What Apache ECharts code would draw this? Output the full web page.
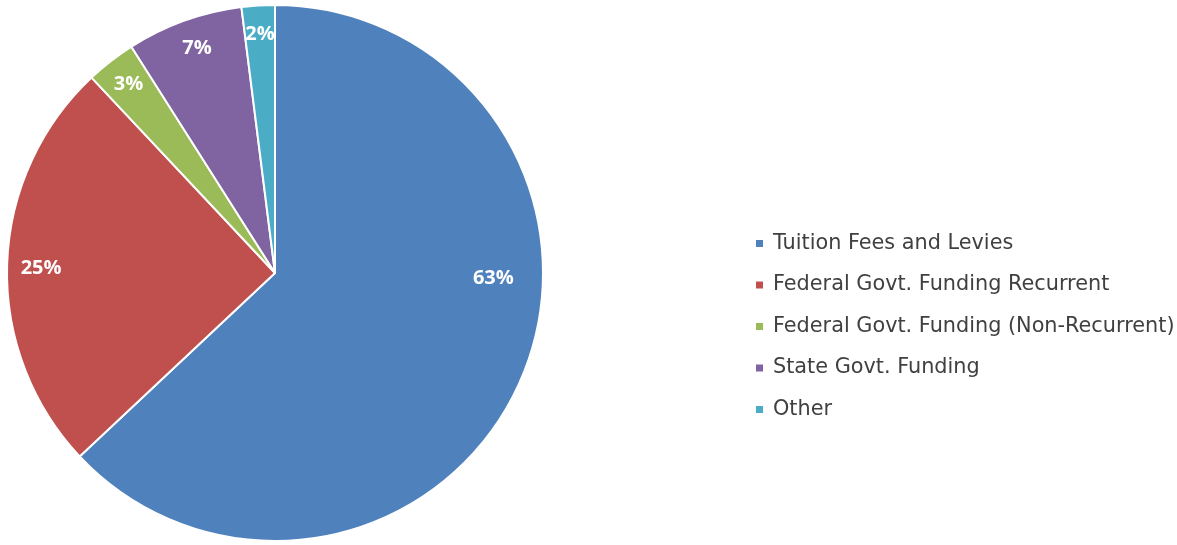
<!DOCTYPE html>
<html><head><meta charset="utf-8">
<script src="https://cdn.jsdelivr.net/npm/echarts@6/dist/echarts.min.js"></script>
<style>html,body{margin:0;padding:0;background:#fff}#c{width:1177px;height:545px}</style>
</head><body><div id="c"></div>
<script>
var categories = ['Tuition Fees and Levies','Federal Govt. Funding Recurrent','Federal Govt. Funding (Non-Recurrent)','State Govt. Funding','Other'];
var values = [63, 25, 3, 7, 2];
var colors = ['#4F81BD','#C0504D','#9BBB59','#8064A2','#4BACC6'];

var data = categories.map(function(n,i){return {name:n, value:values[i], itemStyle:{color:colors[i]}};});
var chart = echarts.init(document.getElementById('c'), null, {renderer:'canvas'});
chart.setOption({
  animation:false,
  backgroundColor:'#fff',
  legend:{
    orient:'vertical', left:749, top:228,
    itemWidth:9, itemHeight:9, itemGap:20.5, icon:'rect',
    textStyle:{fontFamily:'DejaVu Sans', fontSize:20.8, color:'#404040', lineHeight:20.5, padding:[0,0,0,4]},
    data:categories
  },
  series:[{
    type:'pie', center:[275,273], radius:[0,268], startAngle:90, clockwise:true,
    silent:true, label:{show:false}, labelLine:{show:false},
    itemStyle:{borderColor:'#fff', borderWidth:2},
    data:data
  },{
    type:'pie', center:[275,273], radius:[236,236], startAngle:90, clockwise:true,
    silent:true, legendHoverLink:false,
    itemStyle:{color:'transparent', borderWidth:0},
    label:{show:true, position:'inside', formatter:'{c}%', color:'#fff', fontFamily:'Open Sans', fontWeight:'bold', fontSize:20},
    labelLine:{show:false},
    labelLayout:function(p){ if(p.dataIndex===0){ return {dy:-90, dx:-1}; } if(p.dataIndex===1){ return {dy:3, dx:5}; } if(p.dataIndex===3){ return {dx:3}; } },
    data:categories.map(function(n,i){return {name:n, value:values[i]};})
  }]
});
</script></body></html>
